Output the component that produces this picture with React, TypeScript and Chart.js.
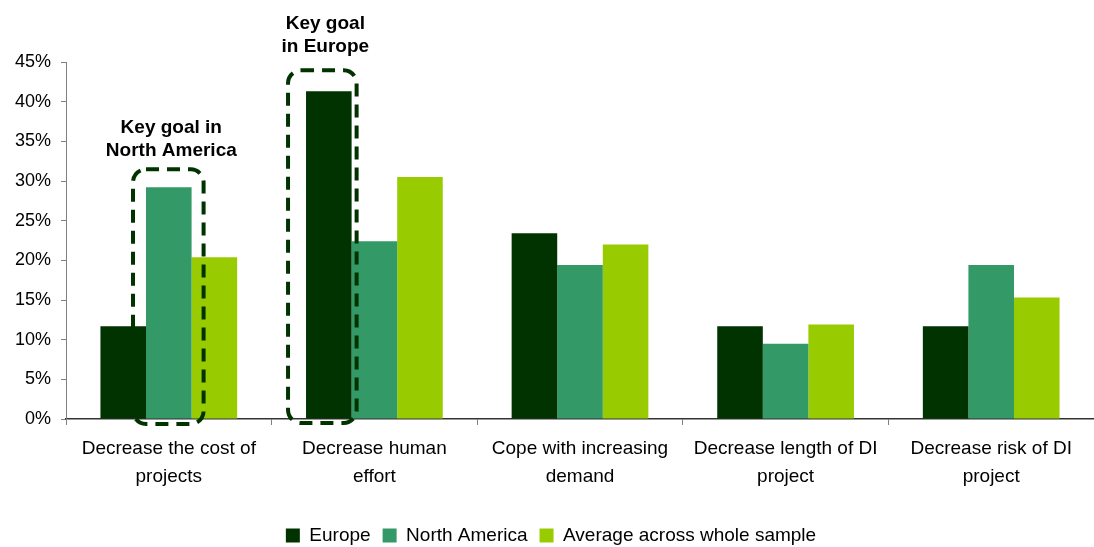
import React, { useEffect, useRef } from "react";
import { Chart, registerables } from "chart.js";

Chart.register(...registerables);

const categories: string[][] = [
  ["Decrease the cost of", "projects"],
  ["Decrease human", "effort"],
  ["Cope with increasing", "demand"],
  ["Decrease length of DI", "project"],
  ["Decrease risk of DI", "project"],
];
const europe = [0.117, 0.413, 0.234, 0.117, 0.117];
const northAmerica = [0.292, 0.224, 0.194, 0.095, 0.194];
const average = [0.204, 0.305, 0.22, 0.119, 0.153];
const seriesNames = ["Europe", "North America", "Average across whole sample"];
const colors = ["#003300", "#339966", "#99CC00"];
const yTicks = [0, 0.05, 0.1, 0.15, 0.2, 0.25, 0.3, 0.35, 0.4, 0.45];
const noteNA = ["Key goal in", "North America"];
const noteEU = ["Key goal", "in Europe"];

const FONT = "'Liberation Sans', Arial, sans-serif";

function roundRect(ctx: CanvasRenderingContext2D, l: number, t: number, r: number, b: number, rad: number) {
  ctx.beginPath();
  ctx.moveTo(l + rad, t);
  ctx.lineTo(r - rad, t);
  ctx.arcTo(r, t, r, t + rad, rad);
  ctx.lineTo(r, b - rad);
  ctx.arcTo(r, b, r - rad, b, rad);
  ctx.lineTo(l + rad, b);
  ctx.arcTo(l, b, l, b - rad, rad);
  ctx.lineTo(l, t + rad);
  ctx.arcTo(l, t, l + rad, t, rad);
  ctx.closePath();
}

const annotationPlugin = {
  id: "keyGoals",
  afterDatasetsDraw(chart: any) {
    const ctx: CanvasRenderingContext2D = chart.ctx;
    const yScale = chart.scales.y;
    const base = yScale.getPixelForValue(0);
    const drawBox = (bar: any, padL: number, padR: number, padT: number, padB: number, lines: string[], textGap: number) => {
      const w = bar.width;
      const l = bar.x - w / 2 - padL;
      const r = bar.x + w / 2 + padR;
      const t = bar.y - padT;
      const b = base + padB;
      ctx.save();
      ctx.strokeStyle = "#003300";
      ctx.lineWidth = 4;
      ctx.setLineDash([13, 8]);
      roundRect(ctx, l, t, r, b, 13);
      ctx.stroke();
      ctx.setLineDash([]);
      ctx.fillStyle = "#000000";
      ctx.font = `bold 19px ${FONT}`;
      ctx.textAlign = "center";
      ctx.textBaseline = "middle";
      const cx = (l + r) / 2 + 3;
      const lh = 23;
      for (let i = 0; i < lines.length; i++) {
        ctx.fillText(lines[i], cx, t - textGap - (lines.length - 1 - i) * lh);
      }
      ctx.restore();
    };
    const naBar = chart.getDatasetMeta(1).data[0];
    const euBar = chart.getDatasetMeta(0).data[1];
    drawBox(naBar, 13, 12, 18, 5, noteNA, 19);
    drawBox(euBar, 18, 5, 21, 4, noteEU, 24);
  },
};

export default function App() {
  const ref = useRef<HTMLCanvasElement>(null);
  useEffect(() => {
    if (!ref.current) return;
    const chart = new Chart(ref.current, {
      type: "bar",
      data: {
        labels: categories,
        datasets: [europe, northAmerica, average].map((d, i) => ({
          label: seriesNames[i],
          data: d,
          backgroundColor: colors[i],
          borderWidth: 0,
          categoryPercentage: 0.665,
          barPercentage: 1,
        })),
      },
      options: {
        animation: false,
        responsive: false,
        maintainAspectRatio: false,
        layout: { padding: { top: 62, left: 8, right: 0, bottom: -8 } },
        plugins: {
          legend: {
            position: "bottom",
            labels: {
              font: { family: FONT, size: 19 },
              color: "#000000",
              boxWidth: 14,
              boxHeight: 14,
              padding: 12,
            },
          },
          tooltip: { enabled: false },
        },
        scales: {
          x: {
            afterFit: (s: any) => {
              s.height = 95;
            },
            grid: {
              display: true,
              drawOnChartArea: false,
              tickLength: 6,
              color: "#808080",
              offset: true,
            },
            border: { color: "#333333", width: 1.5 },
            ticks: {
              font: { family: FONT, size: 19, lineHeight: 1.47 },
              color: "#000000",
              maxRotation: 0,
              autoSkip: false,
              padding: 10,
            },
          },
          y: {
            min: 0,
            max: 0.45,
            afterBuildTicks: (s: any) => {
              s.ticks = yTicks.map((v) => ({ value: v }));
            },
            afterFit: (s: any) => {
              s.width = 58;
            },
            grid: {
              display: true,
              drawOnChartArea: false,
              tickLength: 5,
              color: "#808080",
            },
            border: { color: "#808080", width: 1 },
            ticks: {
              font: { family: FONT, size: 18 },
              color: "#000000",
              padding: 10,
              callback: (v: any) => `${Math.round(Number(v) * 100)}%`,
            },
          },
        },
      },
      plugins: [annotationPlugin],
    });
    return () => chart.destroy();
  }, []);
  return (
    <div style={{ position: "absolute", left: 0, top: 0, width: 1094, height: 547, background: "#fff" }}>
      <canvas ref={ref} width={1094} height={547} style={{ width: 1094, height: 547 }} />
    </div>
  );
}
